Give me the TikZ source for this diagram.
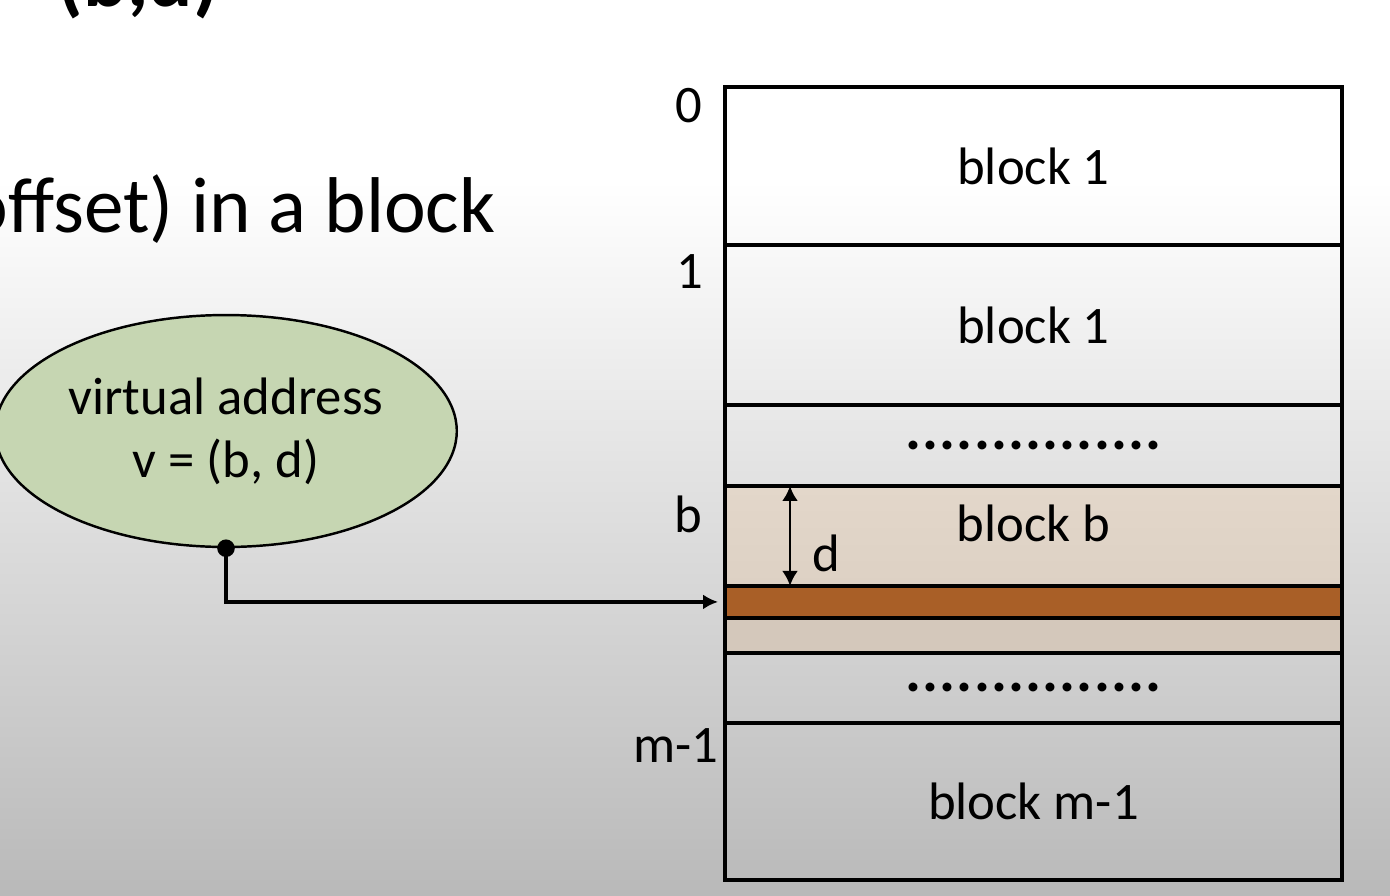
\documentclass[tikz,border=0pt]{standalone}
\usepackage{fontspec}
\setmainfont{Carlito}
\usetikzlibrary{arrows.meta,shapes.geometric,positioning}

\definecolor{ovalgreen}{RGB}{198,214,178}
\definecolor{blockbtop}{RGB}{227,215,202}
\definecolor{blockbbot}{RGB}{212,200,187}
\definecolor{offsetbrown}{RGB}{169,95,39}

\begin{document}
\begin{tikzpicture}[
  x=0.02cm, y=-0.02cm,
  >=Latex,
  node distance=0pt,
  blocktext/.style={font=\fontsize{30}{36}\selectfont},
  memblock/.style={blocktext, draw=black, line width=2pt, minimum width=12.34cm,
                   inner sep=0pt, outer sep=0pt},
  addrlabel/.style={blocktext, anchor=base east, inner sep=0pt},
  dotrow/.style={font=\fontsize{34}{40}\selectfont\bfseries\addfontfeature{LetterSpace=2}},
  conn/.style={-{Latex[length=3mm,width=3mm]}, line width=1.8pt, shorten >=0.14cm}
]
  \useasboundingbox (0,0) rectangle (1390,896);
  \clip (0,0) rectangle (1390,896);
  % slide background
  \fill[white] (0,0) rectangle (1390,180);
  \shade[top color=white, bottom color=gray!55] (0,180) rectangle (1390,896);

  % slide titles, cut by the frame
  \node[anchor=base west, inner sep=0pt, font=\fontsize{47}{56}\selectfont\bfseries]
    (head) at (57,6) {(b,d)};
  \node[anchor=base east, inner sep=0pt, font=\fontsize{45}{54}\selectfont]
    (sub) at (496,232) {(offset) in a block};

  % memory blocks
  \node[memblock, minimum height=3.16cm] (blk0) at (1033.5,166) {block 1};
  \node[memblock, minimum height=3.2cm, below=of blk0] (blk1) {block 1};
  \node[memblock, minimum height=1.62cm, below=of blk1, dotrow] (gap1) {...............};
  \node[memblock, minimum height=2cm, below=of gap1,
        top color=blockbtop, bottom color=blockbtop!60!blockbbot] (blkb) {};
  \node[memblock, minimum height=0.64cm, below=of blkb, fill=offsetbrown] (strip) {};
  \node[memblock, minimum height=0.7cm, below=of strip, fill=blockbbot] (rest) {};
  \node[memblock, minimum height=1.4cm, below=of rest, dotrow] (gap2) {...............};
  \node[memblock, minimum height=3.14cm, below=of gap2] (blkm) {block m-1};
  \node[blocktext] (blkbtxt) at ([yshift=0.26cm]blkb.center) {block b};

  % addresses
  \node[addrlabel] (lab0) at (703,122) {0};
  \node[addrlabel] (lab1) at (704,288) {1};
  \node[addrlabel] (labb) at (703,532) {b};
  \node[addrlabel] (labm) at (719,762) {m-1};

  % offset inside block b
  \coordinate (dx) at (790,0);
  \draw[{Latex[length=3mm,width=3.2mm]}-{Latex[length=3mm,width=3.2mm]}, line width=1.6pt]
    (blkb.north -| dx) -- (blkb.south -| dx);
  \node[blocktext] (dlab) at (826,553) {d};

  % virtual address
  \node[ellipse, draw=black, line width=1.4pt, fill=ovalgreen, minimum width=9.2cm,
        minimum height=4.64cm, align=center, blocktext] (vaddr) at (226,431)
    {virtual address\\v = (b, d)};
  \fill (vaddr.south) circle (5pt);
  \draw[conn] (vaddr.south) |- (strip.west);
\end{tikzpicture}
\end{document}
